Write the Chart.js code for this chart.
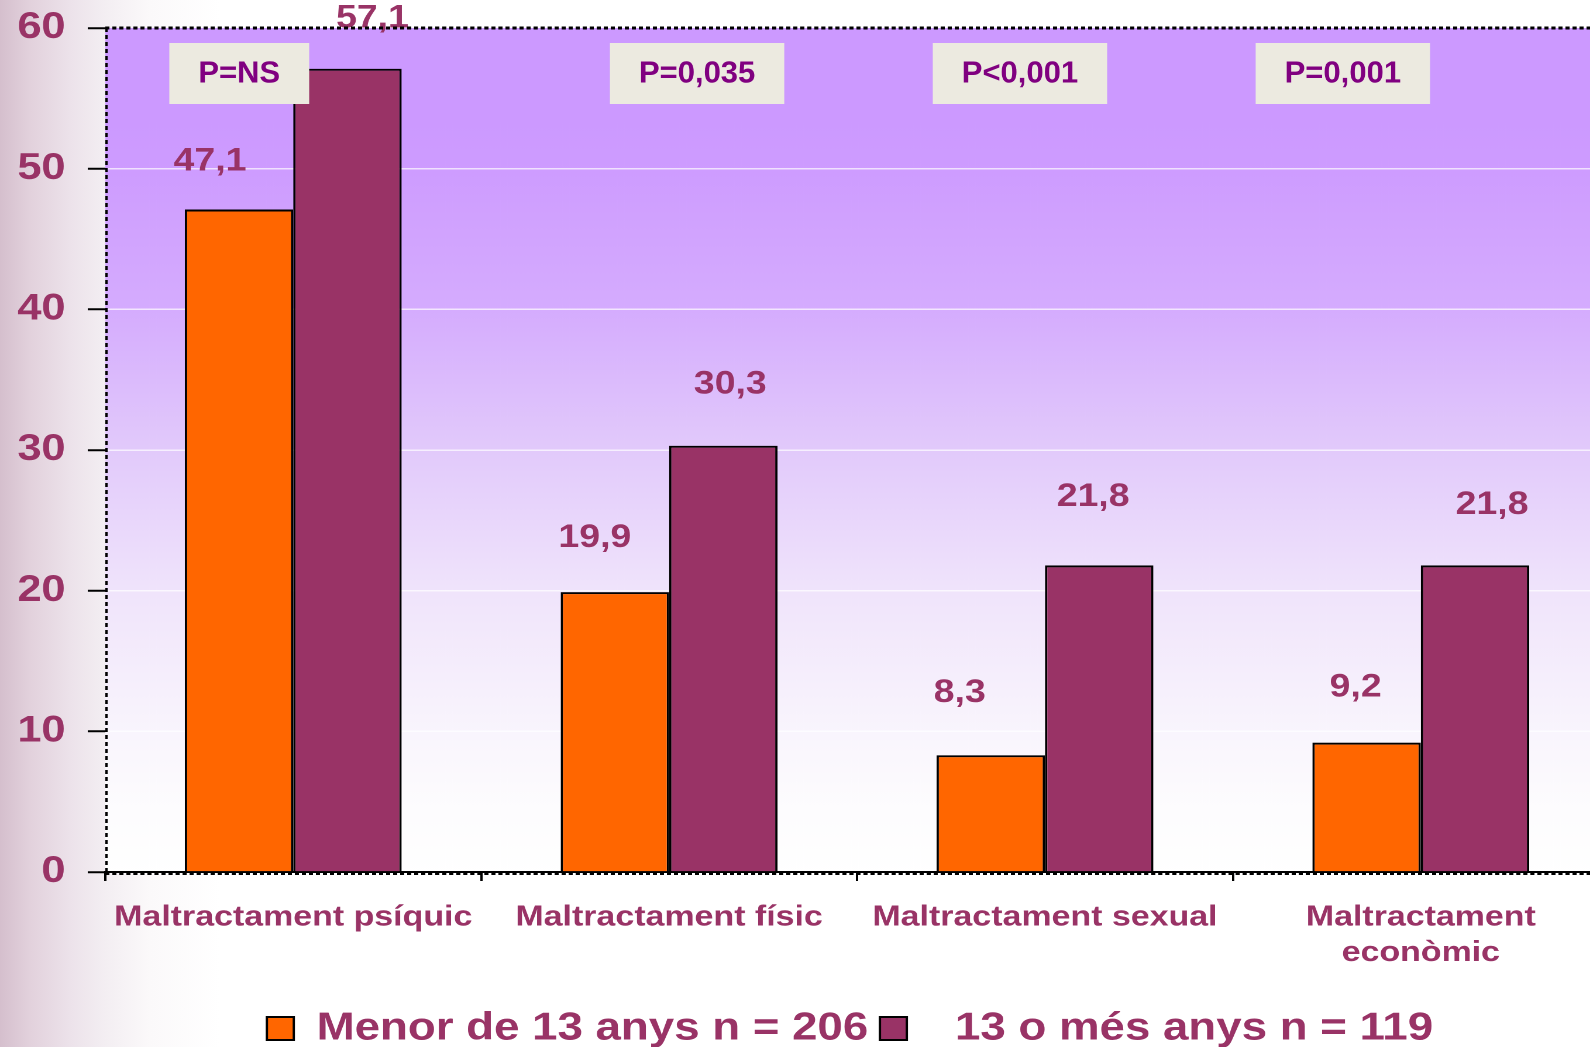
<!DOCTYPE html>
<html>
<head>
<meta charset="utf-8">
<script src="https://cdn.jsdelivr.net/npm/chart.js@4"></script>
<style>
  html, body { margin: 0; padding: 0; overflow: hidden; width: 1590px; height: 1047px; }
  body {
    background: linear-gradient(to right, #d5bfcd 0px, #e2d1dc 30px, #ece2ea 70px, #f3eef2 105px, #fbf9fa 150px, #ffffff 220px);
  }
  #wrap { position: absolute; left: 0; top: 0; transform: scaleX(1.17); transform-origin: 0 0; }
</style>
</head>
<body>
<div id="wrap"><canvas id="chart" width="1390" height="1058"></canvas></div>
<script>
const categories = ['Maltractament psíquic', 'Maltractament físic', 'Maltractament sexual', ['Maltractament', 'econòmic']];
const seriesNames = ['Menor de 13 anys n = 206', '  13 o més anys n = 119'];
const under13 = [47.1, 19.9, 8.3, 9.2];
const over13 = [57.1, 30.3, 21.8, 21.8];
const pValues = ['P=NS', 'P=0,035', 'P<0,001', 'P=0,001'];

// the original slide is stretched horizontally
const STRETCH = 1.17;
const FONT = '"Liberation Sans", Arial, sans-serif';
const textColor = '#993366';

// plot background + dotted borders
const backdrop = {
    id: 'backdrop',
    beforeDraw(chart) {
        const { ctx, chartArea: a } = chart;
        const g = ctx.createLinearGradient(0, a.top, 0, a.bottom);
        g.addColorStop(0, '#cc99ff');
        g.addColorStop(0.1, '#cc99ff');
        g.addColorStop(0.167, '#ce9cff');
        g.addColorStop(0.333, '#d5acfe');
        g.addColorStop(0.5, '#e2cafb');
        g.addColorStop(0.667, '#f0e4fb');
        g.addColorStop(0.833, '#f9f5fd');
        g.addColorStop(0.92, '#fdfcfe');
        g.addColorStop(1, '#ffffff');
        ctx.save();
        ctx.fillStyle = g;
        ctx.fillRect(a.left, a.top, a.right - a.left, a.bottom - a.top);
        ctx.restore();
    },
    afterDraw(chart) {
        const { ctx, chartArea: a } = chart;
        ctx.save();
        ctx.strokeStyle = '#000';
        ctx.lineWidth = 3;
        ctx.setLineDash([3.5, 2.5]);
        ctx.beginPath();
        ctx.moveTo(a.left, a.top);
        ctx.lineTo(a.right, a.top);
        ctx.stroke();
        ctx.lineWidth = 2;
        ctx.beginPath();
        ctx.moveTo(a.left, a.bottom + 2);
        ctx.lineTo(a.right, a.bottom + 2);
        ctx.stroke();
        ctx.setLineDash([4, 3]);
        ctx.lineWidth = 2;
        ctx.beginPath();
        ctx.moveTo(a.left + 1, a.top);
        ctx.lineTo(a.left + 1, a.bottom);
        ctx.stroke();
        ctx.restore();
    }
};

// value labels above bars, placed by hand in the slide
const valueLabels = {
    id: 'valueLabels',
    afterDatasetsDraw(chart) {
        const { ctx } = chart;
        const dx = [[-29, -20, -31, -11], [25, 7, -6, 17]];
        const rise = [[48, 54, 62, 55], [50, 61, 68, 60]];
        ctx.save();
        ctx.font = 'bold 32px ' + FONT;
        ctx.fillStyle = textColor;
        ctx.textAlign = 'center';
        ctx.textBaseline = 'middle';
        chart.data.datasets.forEach((ds, i) => {
            chart.getDatasetMeta(i).data.forEach((bar, j) => {
                const txt = ds.data[j].toFixed(1).replace('.', ',');
                ctx.fillText(txt, bar.x + dx[i][j] / STRETCH, bar.y - rise[i][j]);
            });
        });
        ctx.restore();
    }
};

// p-value boxes (not stretched in the original)
const pBoxes = {
    id: 'pBoxes',
    afterDatasetsDraw(chart) {
        const { ctx } = chart;
        const xs = chart.scales.x;
        const boxShift = [-54, 28, -25, -78];
        ctx.save();
        ctx.font = 'bold 31px ' + FONT;
        pValues.forEach((p, i) => {
            const cx = xs.getPixelForValue(i) + boxShift[i] / STRETCH;
            const w = (ctx.measureText(p).width + 58) / STRETCH;
            ctx.fillStyle = '#eceae0';
            ctx.fillRect(cx - w / 2, 43, w, 61);
            ctx.save();
            ctx.translate(cx, 74);
            ctx.scale(1 / STRETCH, 1);
            ctx.fillStyle = '#800080';
            ctx.textAlign = 'center';
            ctx.textBaseline = 'middle';
            ctx.fillText(p, 0, 0);
            ctx.restore();
        });
        ctx.restore();
    }
};

// move legend so it sits where it does in the slide
const legendShift = {
    id: 'legendShift',
    afterLayout(chart) {
        const lg = chart.legend;
        const d = 850 / STRETCH - (lg.left + lg.right) / 2;
        lg.left += d;
        lg.right += d;
    }
};

const ctx = document.getElementById('chart').getContext('2d');
new Chart(ctx, {
    type: 'bar',
    data: {
        labels: categories,
        datasets: [{
            label: seriesNames[0],
            data: under13,
            backgroundColor: '#ff6600',
            borderColor: '#000000',
            borderWidth: 2,
        }, {
            label: seriesNames[1],
            data: over13,
            backgroundColor: '#993366',
            borderColor: '#000000',
            borderWidth: 2,
        }],
    },
    options: {
        responsive: false,
        animation: false,
        devicePixelRatio: 2,
        layout: { padding: { top: 28, left: 0, right: 15, bottom: 0 } },
        datasets: { bar: { categoryPercentage: 0.577, barPercentage: 1.0 } },
        plugins: {
            tooltip: { enabled: false },
            legend: {
                position: 'bottom',
                labels: {
                    color: textColor,
                    font: { family: FONT, size: 39, weight: 'bold' },
                    boxWidth: 23,
                    boxHeight: 23,
                    padding: 10,
                },
            },
        },
        scales: {
            x: {
                offset: true,
                afterFit(scale) {
                    scale.height = 127;
                    scale.paddingLeft = 0;
                    scale.paddingRight = 0;
                },
                grid: {
                    offset: true,
                    drawOnChartArea: false,
                    drawTicks: true,
                    tickLength: 9,
                    tickColor: '#000',
                    tickWidth: 2,
                },
                border: { display: true, color: '#000', width: 2 },
                ticks: {
                    color: textColor,
                    padding: 19,
                    maxRotation: 0,
                    autoSkip: false,
                    font: { family: FONT, size: 29, weight: 'bold', lineHeight: 1.22 },
                },
            },
            y: {
                min: 0,
                max: 60,
                afterFit(scale) {
                    scale.width = 90;
                    scale.paddingTop = 0;
                    scale.paddingBottom = 0;
                },
                grid: {
                    color: (c) => (c.tick && (c.tick.value === 0 || c.tick.value === 60)) ? 'rgba(0,0,0,0)' : 'rgba(255,255,255,0.7)',
                    lineWidth: 1.5,
                    tickLength: 15,
                    tickColor: '#000',
                    tickWidth: 2,
                },
                border: { display: false },
                ticks: {
                    stepSize: 10,
                    color: textColor,
                    padding: 19,
                    font: { family: FONT, size: 37, weight: 'bold' },
                },
            },
        },
    },
    plugins: [backdrop, valueLabels, pBoxes, legendShift],
});
</script>
</body>
</html>
